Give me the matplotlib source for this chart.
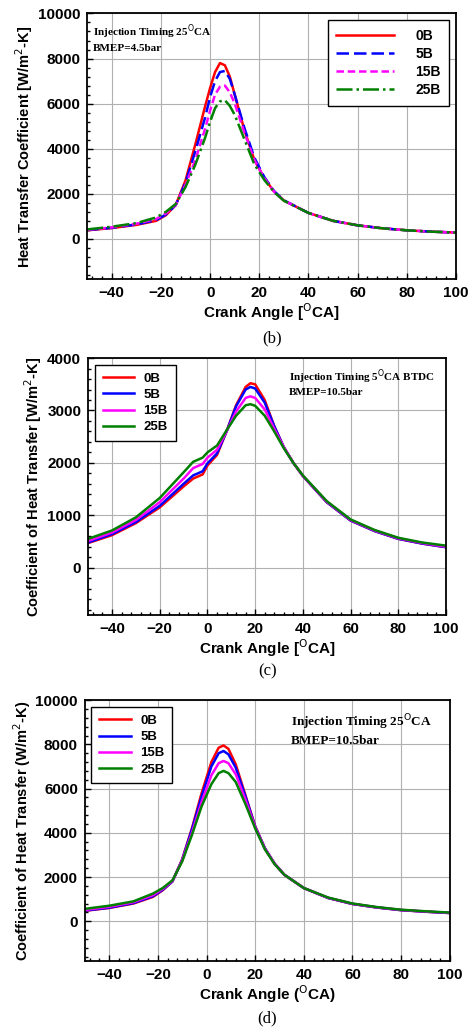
import numpy as np
import matplotlib
matplotlib.use('Agg')
import matplotlib.pyplot as plt
from matplotlib.ticker import MultipleLocator

series = ['0B', '5B', '15B', '25B']
colors = ['#ff0000', '#0000ff', '#ff00ff', '#008000']

# panel (b): injection timing 25 CA, BMEP 4.5 bar
ang_b = [-50, -40, -30, -22, -18, -14, -10, -6, -2, 0, 2, 4, 6, 8, 10, 14, 18, 22, 26, 30, 40, 50, 60, 70, 80, 90, 100]
b_0B = [380, 480, 620, 800, 1050, 1500, 2600, 4200, 5900, 6700, 7400, 7800, 7700, 7200, 6400, 4800, 3500, 2700, 2100, 1700, 1150, 800, 600, 470, 380, 320, 280]
b_5B = [390, 490, 640, 830, 1080, 1500, 2500, 3900, 5400, 6300, 7000, 7400, 7450, 7100, 6400, 4900, 3600, 2750, 2120, 1710, 1150, 800, 600, 470, 380, 320, 280]
b_15B = [400, 510, 670, 880, 1130, 1520, 2400, 3500, 4900, 5700, 6400, 6750, 6800, 6500, 6000, 4700, 3500, 2700, 2100, 1700, 1150, 800, 600, 470, 380, 320, 280]
b_25B = [420, 540, 700, 950, 1200, 1550, 2300, 3300, 4500, 5200, 5800, 6100, 6150, 5900, 5500, 4400, 3300, 2620, 2080, 1690, 1150, 800, 600, 470, 380, 320, 280]

# panel (c): injection timing 5 CA BTDC, BMEP 10.5 bar
ang_c = [-50, -40, -30, -20, -10, -6, -2, 0, 4, 8, 12, 16, 18, 20, 24, 28, 32, 36, 40, 50, 60, 70, 80, 90, 100]
c_0B = [470, 620, 850, 1150, 1550, 1700, 1780, 1950, 2150, 2600, 3100, 3450, 3520, 3500, 3200, 2700, 2300, 2000, 1750, 1250, 900, 700, 550, 460, 390]
c_5B = [480, 640, 870, 1180, 1600, 1760, 1840, 1990, 2180, 2600, 3080, 3400, 3450, 3420, 3150, 2700, 2300, 2000, 1750, 1250, 900, 700, 550, 460, 390]
c_15B = [510, 670, 910, 1250, 1700, 1900, 1980, 2100, 2250, 2600, 2980, 3240, 3270, 3240, 3020, 2650, 2300, 2000, 1750, 1260, 910, 710, 560, 470, 400]
c_25B = [550, 710, 960, 1330, 1820, 2020, 2100, 2200, 2330, 2620, 2900, 3100, 3120, 3090, 2900, 2600, 2280, 2000, 1760, 1270, 920, 720, 570, 480, 420]

# panel (d): injection timing 25 CA, BMEP 10.5 bar
ang_d = [-50, -40, -30, -22, -18, -14, -10, -6, -2, 2, 5, 7, 9, 12, 16, 20, 24, 28, 32, 40, 50, 60, 70, 80, 90, 100]
d_0B = [470, 600, 800, 1100, 1400, 1800, 2800, 4200, 5800, 7200, 7850, 7950, 7800, 7100, 5700, 4300, 3300, 2600, 2100, 1500, 1050, 780, 620, 500, 430, 370]
d_5B = [480, 610, 820, 1130, 1420, 1800, 2780, 4150, 5650, 7000, 7600, 7700, 7550, 6950, 5650, 4280, 3300, 2600, 2100, 1500, 1050, 780, 620, 500, 430, 370]
d_15B = [510, 650, 860, 1180, 1460, 1820, 2750, 4000, 5400, 6600, 7150, 7250, 7150, 6650, 5500, 4250, 3280, 2600, 2100, 1500, 1060, 790, 630, 510, 440, 380]
d_25B = [560, 700, 900, 1250, 1500, 1850, 2700, 3900, 5200, 6200, 6700, 6800, 6700, 6300, 5300, 4200, 3250, 2580, 2100, 1500, 1070, 800, 640, 520, 450, 390]

sans = 'Liberation Sans'
serif = 'Liberation Serif'

fig = plt.figure(figsize=(4.74, 10.35), dpi=100)

panels = [
    dict(rect=[0.184, 0.730, 0.778, 0.257], x=ang_b, ys=[b_0B, b_5B, b_15B, b_25B],
         ls=['-', (0, (5, 2)), (0, (3, 1.5)), '-.'], ylim=(-1800, 10000), ystep=2000,
         ylabel='Heat Transfer Coefficient [W/m$^2$-K]', xlabel='Crank Angle [$^{\\rm O}$CA]',
         note='Injection Timing 25$^{\\rm O}$CA\nBMEP=4.5bar', note_xy=(0.015, 0.965), note_fs=8,
         legloc='upper right', tag='(b)'),
    dict(rect=[0.186, 0.406, 0.755, 0.248], x=ang_c, ys=[c_0B, c_5B, c_15B, c_25B],
         ls=['-'] * 4, ylim=(-900, 4000), ystep=1000,
         ylabel='Coefficient of Heat Transfer [W/m$^2$-K]', xlabel='Crank Angle [$^{\\rm O}$CA]',
         note='Injection Timing 5$^{\\rm O}$CA BTDC\nBMEP=10.5bar', note_xy=(0.56, 0.965), note_fs=8,
         legloc='upper left', tag='(c)'),
    dict(rect=[0.179, 0.0715, 0.770, 0.252], x=ang_d, ys=[d_0B, d_5B, d_15B, d_25B],
         ls=['-'] * 4, ylim=(-1800, 10000), ystep=2000,
         ylabel='Coefficient of Heat Transfer (W/m$^2$-K)', xlabel='Crank Angle ($^{\\rm O}$CA)',
         note='Injection Timing 25$^{\\rm O}$CA\nBMEP=10.5bar', note_xy=(0.565, 0.955), note_fs=9.5,
         legloc='upper left', tag='(d)'),
]

for p in panels:
    ax = fig.add_axes(p['rect'])
    for name, y, c, ls in zip(series, p['ys'], colors, p['ls']):
        ax.plot(p['x'], y, color=c, ls=ls, lw=1.8, label=name)
    ax.set_xlim(-50, 100)
    ax.set_ylim(*p['ylim'])
    ax.xaxis.set_major_locator(MultipleLocator(20))
    ax.xaxis.set_minor_locator(MultipleLocator(4))
    ax.yaxis.set_major_locator(MultipleLocator(p['ystep']))
    ax.yaxis.set_minor_locator(MultipleLocator(p['ystep'] / 5))
    ax.grid(True, which='major', color='#b0b0b0', lw=0.8)
    ax.tick_params(which='both', direction='in', top=False, right=False)
    ax.tick_params(which='major', length=4, width=1, pad=5)
    ax.tick_params(which='minor', length=2.5, width=1)
    for s in ax.spines.values():
        s.set_linewidth(1.3)
    for lab in ax.get_xticklabels() + ax.get_yticklabels():
        lab.set_fontfamily(sans)
        lab.set_fontweight('bold')
        lab.set_fontsize(11)
    ax.set_xlabel(p['xlabel'], fontfamily=sans, fontweight='bold', fontsize=11, labelpad=1)
    ax.set_ylabel(p['ylabel'], fontfamily=sans, fontweight='bold', fontsize=10.5, labelpad=2)
    ax.text(p['note_xy'][0], p['note_xy'][1], p['note'], transform=ax.transAxes, va='top', ha='left',
            fontfamily=serif, fontweight='bold', fontsize=p['note_fs'], linespacing=1.4)
    big = p['tag'] == '(b)'
    leg = ax.legend(loc=p['legloc'], fancybox=False, edgecolor='black', framealpha=1,
                    prop={'family': sans, 'weight': 'bold', 'size': 10 if big else 9.5},
                    handlelength=4.2 if big else 2.4, handletextpad=1.5 if big else 0.7,
                    labelspacing=0.3, borderpad=0.6)
    leg.get_frame().set_linewidth(1.0)
    ax.text(0.5, -0.19, p['tag'], transform=ax.transAxes, ha='center', va='top',
            fontfamily=serif, fontsize=12)

fig.savefig('out.png', dpi=100)
